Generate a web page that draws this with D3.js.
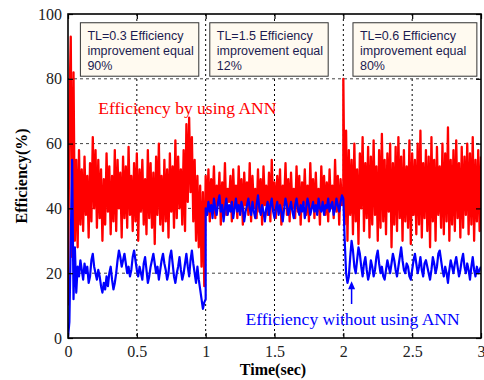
<!DOCTYPE html>
<html>
<head>
<meta charset="utf-8">
<script src="https://cdn.jsdelivr.net/npm/d3@7"></script>
<style>
  body { margin: 0; background: #fff; }
  svg { display: block; }
</style>
</head>
<body>
<div id="chart"></div>
<script>
// segment boundaries (sec)
const segments = [[0, 1], [1, 2], [2, 3]];

// Efficiency by using ANN (%), sampled evenly in each segment
const redSeg1 = [10,70,93,25,82,30,55,28,58,35, 52,33,56,38,50,31,54,36,62,40, 58,34,55,37,52,30,49,35,57,39,
  53,32,50,36,58,33,55,40,51,31, 56,37,53,34,59,38,50,33,54,36, 57,30,52,39,55,35,49,32,58,37,
  54,34,51,29,56,38,60,35,50,33, 55,36,52,31,57,39,53,34,61,37, 56,40,52,35,58,33,66,42,68,45,
  62,36,55,30,50,28,47,22,45,16, 50];
const redSeg2 = [50,38,52,36,49,40,53,37,47,41, 51,35,48,39,54,38,46,42,50,36, 52,40,47,37,53,39,49,35,51,41,
  48,38,54,36,50,40,46,37,52,39, 49,35,53,41,47,38,51,36,55,40, 48,37,50,39,52,35,47,41,54,38,
  49,36,51,40,46,37,53,39,50,35, 48,41,52,38,47,36,54,40,49,37, 51,39,46,35,53,41,50,38,48,36,
  52,40,47,37,55,39,50,35,49,41, 46];
const redSeg3 = [80,35,64,30,58,38,55,32,60,36, 52,29,57,40,62,33,54,37,59,31, 56,35,61,38,53,30,58,34,63,36,
  55,32,57,39,60,28,54,35,59,33, 62,37,56,30,58,36,53,34,61,29, 57,38,55,32,60,35,64,31,54,37,
  58,33,56,28,62,36,55,30,59,38, 53,34,60,32,57,36,65,30,55,35, 58,33,61,37,54,31,59,34,56,38,
  60,32,57,35,62,30,55,36,58,33, 56];

// Efficiency without using ANN (%)
const blueSeg1 = [0,5,30,55,12,28,14,22,19,24, 21,18,23,20,22,17,19,24,26,22, 20,18,21,19,16,14,17,15,19,16,
  20,22,18,15,17,20,24,27,25,22, 24,26,23,20,22,19,21,25,27,24, 21,19,22,20,18,23,25,21,17,19,
  22,24,26,23,20,22,18,21,24,26, 23,21,18,20,25,27,23,19,17,20, 22,25,21,18,20,23,26,22,19,24,
  27,23,20,17,22,18,15,12,9,11, 12];
const blueSeg2 = [40,38,42,39,41,37,43,40,38,42, 44,39,41,36,40,43,38,41,39,42, 37,40,43,39,41,38,42,40,36,39,
  41,43,40,38,42,39,37,41,44,40, 38,41,39,36,40,42,38,41,43,39, 37,40,42,38,41,39,36,40,43,41,
  38,40,42,39,37,41,43,40,38,41, 39,42,37,40,43,41,38,40,42,39, 41,38,43,40,39,42,38,41,40,43,
  39,41,42,38,40,43,41,39,42,44, 43];
const blueSeg3 = [43,30,20,17,19,25,30,27,22,20, 24,28,26,22,19,23,25,21,18,20, 24,22,19,21,25,27,23,20,22,19,
  18,21,24,22,20,23,26,24,21,19, 22,25,28,24,21,20,23,22,19,18, 21,24,26,23,20,22,25,21,19,23,
  24,22,20,18,21,25,23,20,22,26, 27,24,21,19,22,20,17,21,24,22, 20,23,25,22,19,21,24,26,22,20,
  23,21,18,22,25,21,19,22,20,21, 22];

const xTicks = [0, 0.5, 1, 1.5, 2, 2.5, 3];
const yTicks = [0, 20, 40, 60, 80, 100];

const notes = [
  { t0: 0.09, t1: 0.95, lines: ["TL=0.3 Efficiency", "improvement equal", "90%"] },
  { t0: 1.03, t1: 1.89, lines: ["TL=1.5 Efficiency", "improvement equal", "12%"] },
  { t0: 2.07, t1: 2.97, lines: ["TL=0.6 Efficiency", "improvement equal", "80%"] }
];

const W = 484, H = 380;
const margin = { top: 14, right: 3, bottom: 42, left: 68 };
const w = W - margin.left - margin.right;
const h = H - margin.top - margin.bottom;

const svg = d3.select("#chart").append("svg")
  .attr("width", W).attr("height", H);
const g = svg.append("g")
  .attr("transform", "translate(" + margin.left + "," + margin.top + ")");

const x = d3.scaleLinear().domain([0, 3]).range([0, w]);
const y = d3.scaleLinear().domain([0, 100]).range([h, 0]);

// turn segment arrays into [t, v] points
function toPoints(segs) {
  const pts = [];
  segs.forEach((vals, k) => {
    const [a, b] = segments[k];
    vals.forEach((v, i) => pts.push([a + (b - a) * i / (vals.length - 1), v]));
  });
  return pts;
}
const redPts = toPoints([redSeg1, redSeg2, redSeg3]);
const bluePts = toPoints([blueSeg1, blueSeg2, blueSeg3]);

// grid
g.selectAll(".vgrid").data(xTicks.filter(d => d > 0 && d < 3)).enter()
  .append("line")
  .attr("x1", d => x(d)).attr("x2", d => x(d))
  .attr("y1", 0).attr("y2", h)
  .attr("stroke", "#000").attr("stroke-width", 1)
  .attr("stroke-dasharray", "2,3");
g.selectAll(".hgrid").data(yTicks.filter(d => d > 0 && d < 100)).enter()
  .append("line")
  .attr("x1", 0).attr("x2", w)
  .attr("y1", d => y(d)).attr("y2", d => y(d))
  .attr("stroke", "#444").attr("stroke-width", 1)
  .attr("stroke-dasharray", "3,3");

g.append("clipPath").attr("id", "clip")
  .append("rect").attr("width", w).attr("height", h);

const line = d3.line().x(d => x(d[0])).y(d => y(d[1]));

g.append("path").datum(redPts)
  .attr("clip-path", "url(#clip)")
  .attr("d", line)
  .attr("fill", "none").attr("stroke", "#ff0000").attr("stroke-width", 2.3)
  .attr("stroke-linejoin", "round");

g.append("path").datum(bluePts)
  .attr("clip-path", "url(#clip)")
  .attr("d", line)
  .attr("fill", "none").attr("stroke", "#0000ff").attr("stroke-width", 2.2)
  .attr("stroke-linejoin", "round");

// axes with inward ticks on all sides
const tickFont = "'Liberation Serif', 'Times New Roman', serif";
const fmt = d => String(d);
const xb = g.append("g").attr("transform", "translate(0," + h + ")")
  .call(d3.axisBottom(x).tickValues(xTicks).tickFormat(fmt).tickSizeInner(-5).tickSizeOuter(0).tickPadding(8));
const yl = g.append("g")
  .call(d3.axisLeft(y).tickValues(yTicks).tickFormat(fmt).tickSizeInner(-5).tickSizeOuter(0).tickPadding(6));
g.append("g").call(d3.axisTop(x).tickValues(xTicks).tickFormat("").tickSizeInner(-5).tickSizeOuter(0));
g.append("g").attr("transform", "translate(" + w + ",0)")
  .call(d3.axisRight(y).tickValues(yTicks).tickFormat("").tickSizeInner(-5).tickSizeOuter(0));
g.selectAll(".domain").remove();
g.selectAll(".tick line").attr("stroke", "#000").attr("stroke-width", 1.2);
[xb, yl].forEach(a => a.selectAll("text")
  .style("font-family", tickFont).style("font-size", "16px").attr("fill", "#222"));

g.append("rect").attr("width", w).attr("height", h)
  .attr("fill", "none").attr("stroke", "#000").attr("stroke-width", 1.6);

// annotation boxes
const sans = "'Liberation Sans', Arial, sans-serif";
notes.forEach(n => {
  const bx = x(n.t0), bw = x(n.t1) - x(n.t0);
  g.append("rect")
    .attr("x", bx).attr("y", y(97.3))
    .attr("width", bw).attr("height", y(80.8) - y(97.3))
    .attr("fill", "#fffaf0").attr("stroke", "#333").attr("stroke-width", 1);
  const t = g.append("text")
    .attr("x", bx + 7).attr("y", y(92))
    .style("font-family", sans).style("font-size", "12.5px").attr("fill", "#1c1c50");
  n.lines.forEach((s, i) => t.append("tspan")
    .attr("x", bx + 7).attr("dy", i ? 15 : 0).text(s));
});

// series labels
const serif = "'Liberation Serif', 'Times New Roman', serif";
g.append("text").attr("x", x(0.22)).attr("y", y(69.2))
  .style("font-family", serif).style("font-size", "17.5px").attr("fill", "#ff0000")
  .text("Efficiency by using ANN");
g.append("text").attr("x", x(1.29)).attr("y", y(4))
  .style("font-family", serif).style("font-size", "17.5px").attr("fill", "#0000ff")
  .text("Efficiency without using ANN");

// arrow pointing at the dip after t = 2
const ax = x(2.06);
g.append("line").attr("x1", ax).attr("x2", ax)
  .attr("y1", y(16.5)).attr("y2", y(10.5))
  .attr("stroke", "#0000ff").attr("stroke-width", 1.5);
g.append("path")
  .attr("d", "M" + ax + "," + y(17.5) + "L" + (ax - 3.5) + "," + (y(17.5) + 8) + "L" + (ax + 3.5) + "," + (y(17.5) + 8) + "Z")
  .attr("fill", "#0000ff");

// axis titles
svg.append("text")
  .attr("x", 273).attr("y", 375).attr("text-anchor", "middle")
  .style("font-family", serif).style("font-size", "16px").style("font-weight", "bold")
  .text("Time(sec)");
svg.append("text")
  .attr("transform", "translate(27," + (margin.top + y(50)) + ") rotate(-90)")
  .attr("text-anchor", "middle")
  .style("font-family", serif).style("font-size", "16px").style("font-weight", "bold")
  .text("Efficiency(%)");
</script>
</body>
</html>
